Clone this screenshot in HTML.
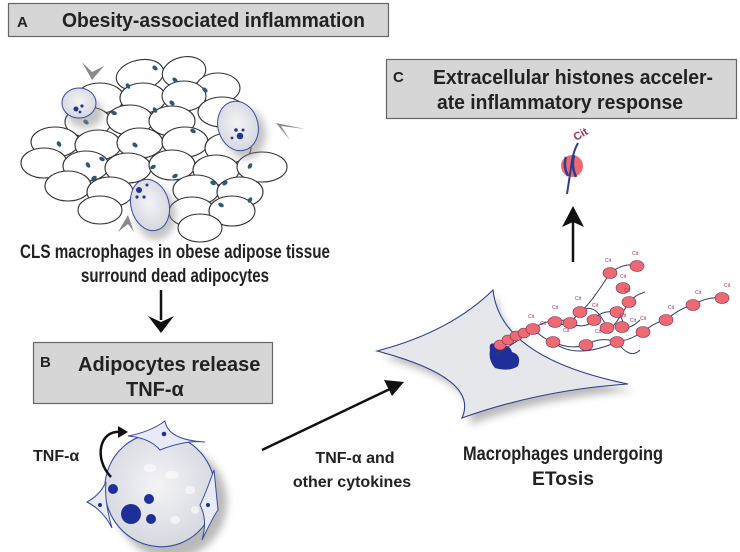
<!DOCTYPE html>
<html><head><meta charset="utf-8"><style>
html,body{margin:0;padding:0;background:#fff;}
svg{display:block}
.t{font-family:"Liberation Sans",Arial,sans-serif;font-weight:bold;fill:#222}
.n{font-family:"Liberation Sans Narrow","Liberation Sans",sans-serif;font-weight:bold;fill:#222}
</style></head><body>
<svg width="740" height="552" viewBox="0 0 740 552" xmlns="http://www.w3.org/2000/svg">
<defs>
<radialGradient id="cg" cx="50%" cy="45%" r="55%"><stop offset="0" stop-color="#f4f4f6"/><stop offset="1" stop-color="#d6d8e0"/></radialGradient>
<filter id="sh" x="-30%" y="-30%" width="160%" height="160%"><feGaussianBlur stdDeviation="4"/></filter>
</defs>

<!-- Boxes -->
<rect x="8.5" y="3.5" width="380" height="33" fill="#d6d6d6" stroke="#666" stroke-width="1.2"/>
<text x="17" y="27" class="t" font-size="15">A</text>
<text x="62" y="27" class="t" font-size="20" textLength="303" lengthAdjust="spacingAndGlyphs">Obesity-associated inflammation</text>

<rect x="33.5" y="342.5" width="239" height="61" fill="#d6d6d6" stroke="#666" stroke-width="1.2"/>
<text x="40" y="367" class="t" font-size="15">B</text>
<text x="78" y="371" class="t" font-size="20">Adipocytes release</text>
<text x="126" y="396" class="t" font-size="20">TNF-α</text>

<rect x="386.5" y="59.5" width="350" height="59" fill="#d6d6d6" stroke="#666" stroke-width="1.2"/>
<text x="393" y="82" class="t" font-size="15">C</text>
<text x="433" y="84" class="t" font-size="20" textLength="280" lengthAdjust="spacingAndGlyphs">Extracellular histones acceler-</text>
<text x="437" y="109" class="t" font-size="20" textLength="246" lengthAdjust="spacingAndGlyphs">ate inflammatory response</text>

<!-- Tissue -->
<g fill="#fff" stroke="#333" stroke-width="1.1">
<ellipse cx="140" cy="75" rx="24" ry="15" transform="rotate(-12 140 75)"/>
<ellipse cx="184" cy="72" rx="22" ry="15" transform="rotate(-12 184 72)"/>
<ellipse cx="218" cy="88" rx="22" ry="15"/>
<ellipse cx="100" cy="98" rx="24" ry="15"/>
<ellipse cx="143" cy="98" rx="23" ry="15"/>
<ellipse cx="184" cy="96" rx="22" ry="15"/>
<ellipse cx="222" cy="112" rx="24" ry="15"/>
<ellipse cx="88" cy="122" rx="23" ry="15"/>
<ellipse cx="130" cy="120" rx="23" ry="15"/>
<ellipse cx="172" cy="121" rx="23" ry="15"/>
<ellipse cx="55" cy="142" rx="24" ry="15"/>
<ellipse cx="98" cy="145" rx="23" ry="15"/>
<ellipse cx="140" cy="143" rx="23" ry="15"/>
<ellipse cx="185" cy="142" rx="23" ry="15"/>
<ellipse cx="228" cy="148" rx="23" ry="15"/>
<ellipse cx="44" cy="163" rx="23" ry="15"/>
<ellipse cx="86" cy="166" rx="23" ry="15"/>
<ellipse cx="128" cy="168" rx="23" ry="15"/>
<ellipse cx="172" cy="165" rx="23" ry="15"/>
<ellipse cx="216" cy="170" rx="23" ry="15"/>
<ellipse cx="262" cy="167" rx="25" ry="15"/>
<ellipse cx="68" cy="186" rx="23" ry="15"/>
<ellipse cx="110" cy="192" rx="23" ry="15"/>
<ellipse cx="196" cy="190" rx="23" ry="15"/>
<ellipse cx="240" cy="192" rx="23" ry="15"/>
<ellipse cx="100" cy="210" rx="22" ry="14"/>
<ellipse cx="192" cy="212" rx="23" ry="15"/>
<ellipse cx="232" cy="211" rx="23" ry="15"/>
<ellipse cx="200" cy="228" rx="22" ry="14"/>
</g>
<g fill="#2a5a78">
<ellipse cx="155" cy="68" rx="3" ry="2" transform="rotate(40 155 68)"/>
<ellipse cx="175" cy="80" rx="3" ry="2" transform="rotate(40 175 80)"/>
<ellipse cx="205" cy="90" rx="3" ry="2" transform="rotate(40 205 90)"/>
<ellipse cx="128" cy="86" rx="3" ry="2" transform="rotate(60 128 86)"/>
<ellipse cx="172" cy="103" rx="3" ry="2" transform="rotate(40 172 103)"/>
<ellipse cx="155" cy="110" rx="3" ry="2" transform="rotate(60 155 110)"/>
<ellipse cx="135" cy="145" rx="3" ry="2" transform="rotate(40 135 145)"/>
<ellipse cx="114" cy="113" rx="3" ry="2" transform="rotate(20 114 113)"/>
<ellipse cx="86" cy="122" rx="3" ry="2" transform="rotate(40 86 122)"/>
<ellipse cx="59" cy="144" rx="3" ry="2" transform="rotate(60 59 144)"/>
<ellipse cx="102" cy="159" rx="3" ry="2" transform="rotate(30 102 159)"/>
<ellipse cx="88" cy="165" rx="3" ry="2" transform="rotate(60 88 165)"/>
<ellipse cx="94" cy="178" rx="3" ry="2" transform="rotate(-30 94 178)"/>
<ellipse cx="153" cy="167" rx="3" ry="2" transform="rotate(-30 153 167)"/>
<ellipse cx="193" cy="131" rx="3" ry="2" transform="rotate(30 193 131)"/>
<ellipse cx="175" cy="176" rx="3" ry="2" transform="rotate(-30 175 176)"/>
<ellipse cx="225" cy="183" rx="3" ry="2" transform="rotate(-40 225 183)"/>
<ellipse cx="250" cy="166" rx="3" ry="2" transform="rotate(-60 250 166)"/>
<ellipse cx="213" cy="183" rx="3" ry="2" transform="rotate(30 213 183)"/>
<ellipse cx="221" cy="205" rx="3" ry="2" transform="rotate(30 221 205)"/>
<ellipse cx="250" cy="200" rx="3" ry="2" transform="rotate(-60 250 200)"/>
</g>
<!-- CLS macrophages -->
<g>
<ellipse cx="80" cy="108" rx="18" ry="15" fill="#888" opacity=".5" filter="url(#sh)" transform="translate(5,5)"/>
<ellipse cx="79" cy="103" rx="17" ry="15" fill="url(#cg)" stroke="#3a4aa0" stroke-width="1"/>
<circle cx="76" cy="109" r="2.5" fill="#223399"/><circle cx="82" cy="106" r="1.6" fill="#223399"/><circle cx="80" cy="112" r="1.4" fill="#223399"/>
<ellipse cx="240" cy="128" rx="20" ry="25" fill="#888" opacity=".5" filter="url(#sh)" transform="translate(6,6)"/>
<ellipse cx="238" cy="126" rx="20" ry="25" fill="url(#cg)" stroke="#3a4aa0" stroke-width="1" transform="rotate(-15 238 126)"/>
<circle cx="240" cy="136" r="3.3" fill="#223399"/><circle cx="236" cy="130" r="1.8" fill="#223399"/><circle cx="243" cy="130" r="1.5" fill="#223399"/><circle cx="232" cy="138" r="1.4" fill="#223399"/>
<ellipse cx="150" cy="208" rx="20" ry="26" fill="#888" opacity=".5" filter="url(#sh)" transform="translate(6,6)"/>
<ellipse cx="150" cy="205" rx="19" ry="26" fill="url(#cg)" stroke="#3a4aa0" stroke-width="1" transform="rotate(-15 150 205)"/>
<circle cx="139" cy="190" r="3" fill="#223399"/><circle cx="137" cy="197" r="1.6" fill="#223399"/><circle cx="144" cy="197" r="1.6" fill="#223399"/><circle cx="147" cy="185" r="1.5" fill="#223399"/>
</g>
<g fill="#8a8a8a">
<path d="M82,62 L92,80 L104,66 L92,72 Z"/>
<path d="M305,129 L276,123 L290,140 L281,126 Z"/>
<path d="M118,232 L128,215 L134,232 L128,224 Z"/>
</g>

<text x="175" y="258" class="n" font-size="19" text-anchor="middle" textLength="310" lengthAdjust="spacingAndGlyphs">CLS macrophages in obese adipose tissue</text>
<text x="175" y="282" class="n" font-size="19" text-anchor="middle" textLength="188" lengthAdjust="spacingAndGlyphs">surround dead adipocytes</text>
<line x1="161" y1="290" x2="161" y2="320" stroke="#111" stroke-width="2.5"/>
<path d="M148,316 L161,333 L174,316 L161,322 Z" fill="#111"/>

<!-- B cell -->
<ellipse cx="165" cy="496" rx="56" ry="57" fill="#666" opacity=".45" filter="url(#sh)" transform="translate(6,6)"/>
<ellipse cx="160" cy="490" rx="55" ry="57" fill="url(#cg)" stroke="#3a4aa0" stroke-width="1.1" transform="rotate(-20 160 490)"/>
<g fill="#fff" opacity=".6"><ellipse cx="150" cy="468" rx="6" ry="4"/><ellipse cx="172" cy="475" rx="7" ry="4"/><ellipse cx="190" cy="490" rx="5" ry="4"/><ellipse cx="175" cy="520" rx="5" ry="4"/><ellipse cx="195" cy="510" rx="4" ry="4"/></g>
<circle cx="113" cy="489" r="5" fill="#1f2f99"/>
<circle cx="131" cy="514" r="10" fill="#1f2f99"/>
<circle cx="149" cy="499" r="5" fill="#1f2f99"/>
<circle cx="151" cy="519" r="5" fill="#1f2f99"/>
<g fill="#e8ebf5" stroke="#3a4aa0" stroke-width="1">
<path d="M128,436 Q150,432 165,421 Q168,440 205,442 Q185,440 160,450 Q150,438 128,436 Z"/>
<path d="M87,502 Q100,495 106,482 Q104,500 112,528 Q103,510 87,502 Z"/>
<path d="M214,470 Q205,495 200,505 Q208,520 202,540 Q214,515 218,510 Z"/>
</g>
<circle cx="164" cy="434" r="2.3" fill="#1f2f99"/><circle cx="100" cy="505" r="2" fill="#1f2f99"/><circle cx="208" cy="505" r="2" fill="#1f2f99"/>
<path d="M111,477 C93,458 100,430 120,432" fill="none" stroke="#111" stroke-width="2.5"/>
<path d="M118,426 L128,432 L118,438 Z" fill="#111"/>
<text x="33" y="461" class="t" font-size="16">TNF-α</text>

<!-- diagonal arrow -->
<line x1="262" y1="450" x2="392" y2="388" stroke="#111" stroke-width="2.5"/>
<path d="M404,382 L384,380 L392,396 Z" fill="#111"/>
<text x="355" y="463" class="t" font-size="16" text-anchor="middle">TNF-α and</text>
<text x="352" y="487" class="t" font-size="16" text-anchor="middle">other cytokines</text>

<!-- ETosis macrophage -->
<path d="M380,353 Q450,335 493,292 Q500,360 630,386 Q540,392 465,420 Q480,380 380,353 Z" fill="#555" opacity=".4" filter="url(#sh)" transform="translate(4,5)"/>
<path d="M377,351 Q450,332 493,290 Q500,358 628,384 Q540,390 462,418 Q480,378 377,351 Z" fill="#e6e7ea" stroke="#2f3d8a" stroke-width="1.1"/>
<path d="M490,350 Q488,340 498,345 Q510,344 512,352 Q522,355 518,366 Q510,372 495,368 Q488,360 490,350 Z" fill="#1f2f99"/>
<g fill="none" stroke="#2f3d6a" stroke-width="1">
<path d="M495,355 Q520,340 533,329 Q545,320 555,322 Q565,330 580,312 Q590,305 610,273 Q625,262 637,266"/>
<path d="M533,329 Q545,340 553,342 Q570,350 586,345 Q600,336 617,342 Q630,340 643,332 Q655,322 666,320 Q680,308 693,305 Q708,296 722,298"/>
<path d="M555,322 Q565,318 570,323 Q585,330 594,320 Q600,310 617,312 Q625,320 622,327 Q630,330 640,320"/>
<path d="M580,312 Q595,300 607,328 Q610,335 629,302 Q635,295 645,292"/>
<path d="M553,342 Q575,360 617,342 Q630,360 640,350"/>
</g>
<g fill="#ee6a72" stroke="#7a2a55" stroke-width=".6">
<ellipse cx="500" cy="345" rx="6" ry="5"/><ellipse cx="508" cy="340" rx="6" ry="5"/><ellipse cx="516" cy="336" rx="6" ry="5"/><ellipse cx="524" cy="333" rx="6" ry="5"/>
<ellipse cx="533" cy="329" rx="7" ry="5.5"/><ellipse cx="555" cy="322" rx="7" ry="5.5"/><ellipse cx="570" cy="323" rx="7" ry="5.5"/><ellipse cx="580" cy="312" rx="7" ry="5.5"/>
<ellipse cx="594" cy="320" rx="7" ry="5.5"/><ellipse cx="607" cy="328" rx="7" ry="5.5"/><ellipse cx="617" cy="312" rx="7" ry="5.5"/><ellipse cx="622" cy="327" rx="7" ry="5.5"/>
<ellipse cx="629" cy="302" rx="7" ry="5.5"/><ellipse cx="623" cy="288" rx="7" ry="5.5"/><ellipse cx="610" cy="273" rx="7" ry="5.5"/><ellipse cx="637" cy="266" rx="7" ry="5.5"/>
<ellipse cx="553" cy="342" rx="7" ry="5.5"/><ellipse cx="586" cy="345" rx="7" ry="5.5"/><ellipse cx="617" cy="342" rx="7" ry="5.5"/><ellipse cx="643" cy="332" rx="7" ry="5.5"/>
<ellipse cx="666" cy="320" rx="7" ry="5.5"/><ellipse cx="693" cy="305" rx="7" ry="5.5"/><ellipse cx="722" cy="298" rx="7" ry="5.5"/>
</g>
<g font-family="Liberation Sans,sans-serif" font-size="5" fill="#a03060">
<text x="528" y="318">Cit</text><text x="552" y="309">Cit</text><text x="575" y="300">Cit</text><text x="605" y="262">Cit</text><text x="632" y="255">Cit</text>
<text x="620" y="278">Cit</text><text x="624" y="292">Cit</text><text x="592" y="307">Cit</text><text x="620" y="317">Cit</text><text x="630" y="322">Cit</text>
<text x="563" y="332">Cit</text><text x="595" y="333">Cit</text><text x="640" y="320">Cit</text><text x="668" y="309">Cit</text><text x="695" y="294">Cit</text><text x="724" y="287">Cit</text><text x="540" y="325">Cit</text>
</g>
<text x="563" y="460" class="n" font-size="19" text-anchor="middle" textLength="200" lengthAdjust="spacingAndGlyphs">Macrophages undergoing</text>
<text x="563" y="485" class="n" font-size="19" text-anchor="middle" textLength="62" lengthAdjust="spacingAndGlyphs">ETosis</text>

<!-- up arrow -->
<line x1="573" y1="262" x2="573" y2="222" stroke="#111" stroke-width="2.5"/>
<path d="M562,227 L573,206 L584,227 L573,222 Z" fill="#111"/>
<circle cx="572" cy="166" r="11" fill="#ee6a72"/>
<path d="M567,194 Q570,175 572,160 Q574,150 578,143" fill="none" stroke="#2f3d8a" stroke-width="2"/>
<path d="M566,157 Q563,166 568,176 M574,155 Q571,166 576,177" fill="none" stroke="#2f3d8a" stroke-width="2.5"/>
<text x="576" y="141" font-family="Liberation Sans,sans-serif" font-weight="bold" font-size="11" fill="#a0305a" transform="rotate(-30 576 141)">Cit</text>
</svg>
</body></html>
